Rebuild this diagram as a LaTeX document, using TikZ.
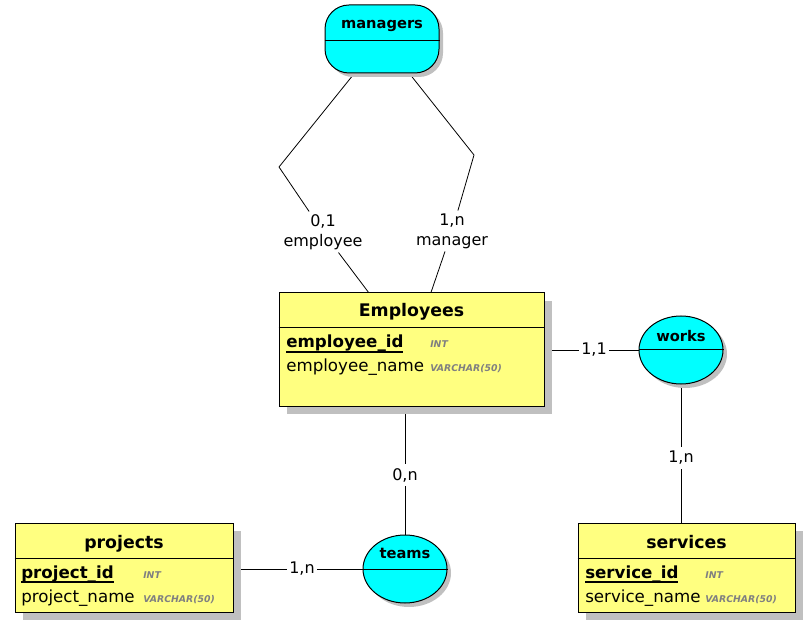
\documentclass[tikz,border=0pt]{standalone}
\usepackage{fontspec}
\setmainfont{DejaVu Sans}
\usetikzlibrary{positioning,shapes.geometric,shadows,backgrounds,fit}
\definecolor{tabyellow}{RGB}{255,255,128}
\definecolor{relcyan}{RGB}{0,255,255}
\definecolor{shadegray}{RGB}{192,192,192}
\definecolor{typegray}{RGB}{128,128,128}
\newcommand{\pkey}[1]{\vtop{\hbox{\textbf{#1}}\kern-0.6pt\hrule height 1.1pt}}

\begin{document}
\begin{tikzpicture}[
  x=0.75pt, y=-0.75pt,
  tbl/.style={draw, fill=tabyellow, inner sep=0pt, line width=0.75pt,
              drop shadow={shadow xshift=6pt, shadow yshift=-6pt, fill=shadegray, opacity=1}},
  relbox/.style={draw, fill=relcyan, inner sep=0pt, line width=0.75pt,
                 drop shadow={shadow xshift=3pt, shadow yshift=-3pt, fill=shadegray, opacity=1}},
  relell/.style={relbox, ellipse, minimum width=63pt, minimum height=51pt},
  ttl/.style={inner sep=0pt, font=\fontsize{13}{15}\selectfont\bfseries},
  attr/.style={inner sep=0pt, font=\fontsize{12.5}{15}\selectfont},
  dtype/.style={inner sep=0pt, text=typegray, font=\fontsize{7}{8}\selectfont\bfseries\itshape},
  rname/.style={inner sep=0pt, font=\fontsize{11}{13}\selectfont\bfseries},
  card/.style={inner xsep=1.5pt, inner ysep=3pt, font=\fontsize{12}{15}\selectfont},
  role/.style={card, align=center, inner sep=2pt},
  divider/.style={line width=0.75pt},
  link/.style={line width=0.6pt},
]
\useasboundingbox (0,0) rectangle (809,630);

% Tables
\node[tbl, fit={(279,293)(544,406)}] (employees) {};
\node[ttl, anchor=base] (employeesT) at (411.5,317) {Employees};
\draw[divider] (employees.west |- 0,328) -- (employees.east |- 0,328);
\node[attr, anchor=base west] (empId) at (286,348) {\pkey{employee\_id}};
\node[dtype, anchor=base west] (empIdT) at (430,348) {INT};
\node[attr, anchor=base west] (empName) at (286,372) {employee\_name};
\node[dtype, anchor=base west] (empNameT) at (430,372) {VARCHAR(50)};

\node[tbl, fit={(15,523)(233,612)}] (projects) {};
\node[ttl, anchor=base] (projectsT) at (124,548) {projects};
\draw[divider] (projects.west |- 0,558) -- (projects.east |- 0,558);
\node[attr, anchor=base west] (projId) at (21,578) {\pkey{project\_id}};
\node[dtype, anchor=base west] (projIdT) at (143,578) {INT};
\node[attr, anchor=base west] (projName) at (21,602) {project\_name};
\node[dtype, anchor=base west] (projNameT) at (143,602) {VARCHAR(50)};

\node[tbl, fit={(578,523)(795,612)}] (services) {};
\node[ttl, anchor=base] (servicesT) at (686.5,548) {services};
\draw[divider] (services.west |- 0,558) -- (services.east |- 0,558);
\node[attr, anchor=base west] (servId) at (585,578) {\pkey{service\_id}};
\node[dtype, anchor=base west] (servIdT) at (705,578) {INT};
\node[attr, anchor=base west] (servName) at (585,602) {service\_name};
\node[dtype, anchor=base west] (servNameT) at (705,602) {VARCHAR(50)};

% Relationships
\node[relbox, rounded corners=18pt, fit={(325,5)(439,73)}] (managers) {};
\node[rname, anchor=base] (managersT) at (382,29) {managers};
\draw[divider] (managers.west |- 0,41) -- (managers.east |- 0,41);

\node[relell] (works) at (681,350) {};
\node[rname, anchor=base] (worksT) at (681,342) {works};
\draw[divider] (works.west) -- (works.east);

\node[relell] (teams) at (405,569) {};
\node[rname, anchor=base] (teamsT) at (405,558) {teams};
\draw[divider] (teams.west) -- (teams.east);

% Links
\begin{scope}[on background layer]
\coordinate (kneeL) at (279,167);
\coordinate (kneeR) at (474,155);
\node[role] (roleEmp) at (323,232) {0,1\\employee};
\node[role] (roleMgr) at (452,231) {1,n\\manager};
\draw[link] (managers) -- (kneeL) -- (roleEmp);
\draw[link] (roleEmp) -- (employees);
\draw[link] (managers) -- (kneeR) -- (roleMgr);
\draw[link] (roleMgr) -- (employees);

\node[card] (cardWorks) at (594,350) {1,1};
\draw[link] (employees.east |- works) -- (cardWorks) -- (works);

\node[card] (cardServ) at (681,458) {1,n};
\draw[link] (works) -- (cardServ) -- (works |- services.north);

\node[card] (cardTeam) at (405,475) {0,n};
\draw[link] (employees.south -| teams) -- (cardTeam) -- (teams);

\node[card] (cardProj) at (302,569) {1,n};
\draw[link] (projects.east |- teams) -- (cardProj) -- (teams);
\end{scope}
\end{tikzpicture}
\end{document}
